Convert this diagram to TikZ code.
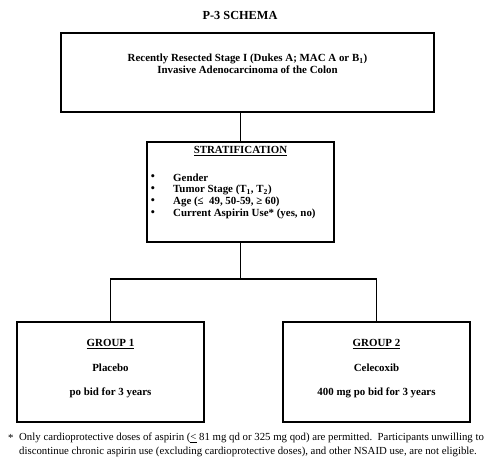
\documentclass[tikz,border=0pt]{standalone}
\usepackage{fontspec}
\setmainfont{Liberation Serif}
\begin{document}
\begin{tikzpicture}[x=1pt,y=-1pt,
  box/.style={draw, line width=1.1pt, inner sep=0pt},
  lbl/.style={font=\fontsize{10.9}{12.5}\selectfont\bfseries, inner sep=0pt},
  note/.style={font=\fontsize{10.8}{12}\selectfont, inner sep=0pt, anchor=west},
  link/.style={line width=1.1pt}]
\useasboundingbox (0,0) rectangle (493,461);
% boxes
\node[box, minimum width=373pt, minimum height=79pt] (top) at (247.5,72.5) {};
\node[box, minimum width=187pt, minimum height=100pt] (strat) at (240.5,192) {};
\node[box, minimum width=187pt, minimum height=100pt] (g1) at (110.5,372) {};
\node[box, minimum width=187pt, minimum height=100pt] (g2) at (376.5,372) {};
\coordinate (split) at (240.5,279);
% title
\node[lbl, font=\fontsize{12.3}{14}\selectfont\bfseries] (title) at (240,15) {P-3 SCHEMA};
% top box text
\node[lbl, align=center] (toptext) at (247.5,64) {Recently Resected Stage I (Dukes A; MAC A or B\textsubscript{1})\\Invasive Adenocarcinoma of the Colon};
% stratification text
\node[lbl] (strattitle) at (240.5,151) {\underline{STRATIFICATION}};
\foreach \yy/\tx/\nm in {178/Gender/s1, 190/{Tumor Stage (T\textsubscript{1}, T\textsubscript{2})}/s2, 202/{Age (≤~ 49, 50-59, ≥ 60)}/s3, 214/{Current Aspirin Use* (yes, no)}/s4}{
  \node[lbl, anchor=center, font=\fontsize{13}{13}\selectfont] (b\nm) at (153,\yy) {•};
  \node[lbl, anchor=west] (\nm) at (173,\yy) {\tx};
}
% group texts
\node[lbl] (g1t) at (110.5,344) {\underline{GROUP 1}};
\node[lbl] (g1a) at (110.5,368) {Placebo};
\node[lbl] (g1b) at (110.5,393) {po bid for 3 years};
\node[lbl] (g2t) at (376.5,344) {\underline{GROUP 2}};
\node[lbl] (g2a) at (376.5,368) {Celecoxib};
\node[lbl] (g2b) at (376.5,393) {400 mg po bid for 3 years};
% connectors
\draw[link] (strat.north |- top.south) -- (strat.north);
\draw[link] (strat.south) -- (split);
\draw[link] (g1.north) -- (g1.north |- split) -- (g2.north |- split) -- (g2.north);
% footnote
\node[note] (star) at (8,438) {*};
\node[note] (fn1) at (19,438) {Only cardioprotective doses of aspirin (\underline{<} 81 mg qd or 325 mg qod) are permitted.\ \ Participants unwilling to};
\node[note] (fn2) at (19,452) {discontinue chronic aspirin use (excluding cardioprotective doses), and other NSAID use, are not eligible.};
\end{tikzpicture}
\end{document}
